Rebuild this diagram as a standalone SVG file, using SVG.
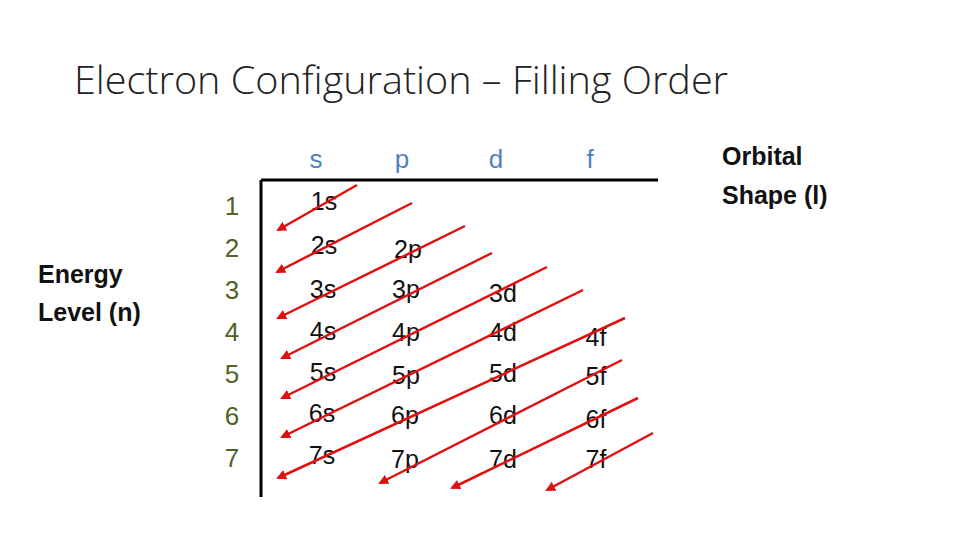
<svg xmlns="http://www.w3.org/2000/svg" width="960" height="540" viewBox="0 0 960 540">
<style>
text{font-family:"Liberation Sans","DejaVu Sans",sans-serif}
.t{font-size:25px;fill:#111;text-anchor:middle}
.h{font-size:26px;fill:#4f81bd;text-anchor:middle}
.n{font-size:26px;fill:#4f6228;text-anchor:middle}
.b{font-size:25px;font-weight:bold;fill:#111}
.a{stroke:#e01010;stroke-width:2.5;fill:none;marker-end:url(#m)}
</style>
<defs><marker id="m" viewBox="0 0 10 10" refX="8" refY="5" markerWidth="4" markerHeight="4" orient="auto"><path d="M0,0L10,5L0,10z" fill="#e01010"/></marker></defs>
<rect width="960" height="540" fill="#fff"/>
<text x="74" y="94" font-size="38" fill="#222" font-weight="300" style="font-family:'Open Sans','Liberation Sans',sans-serif" textLength="654" lengthAdjust="spacingAndGlyphs">Electron Configuration – Filling Order</text>
<g id="labels">
<text class="b" x="38" y="283">Energy</text>
<text class="b" x="38" y="321">Level  (n)</text>
<text class="b" x="722" y="165">Orbital</text>
<text class="b" x="722" y="204">Shape (l)</text>
</g>
<g id="headers"><text class="h" x="316" y="168">s</text><text class="h" x="402" y="168">p</text><text class="h" x="496" y="168">d</text><text class="h" x="590" y="168">f</text></g>
<g id="rows">
<text class="n" x="232" y="215">1</text><text class="n" x="232" y="257">2</text><text class="n" x="232" y="299">3</text><text class="n" x="232" y="341">4</text><text class="n" x="232" y="383">5</text><text class="n" x="232" y="425">6</text><text class="n" x="232" y="467">7</text>
</g>
<g id="table">
<path d="M261,180V497M261,180H658" stroke="#000" stroke-width="3"/>
<text class="t" x="324" y="210">1s</text>
<text class="t" x="324" y="254">2s</text><text class="t" x="408" y="258">2p</text>
<text class="t" x="323" y="298">3s</text><text class="t" x="406" y="298">3p</text><text class="t" x="503" y="302">3d</text>
<text class="t" x="323" y="340">4s</text><text class="t" x="406" y="341">4p</text><text class="t" x="503" y="341">4d</text><text class="t" x="596" y="346">4f</text>
<text class="t" x="323" y="381">5s</text><text class="t" x="406" y="384">5p</text><text class="t" x="503" y="382">5d</text><text class="t" x="596" y="385">5f</text>
<text class="t" x="322" y="422">6s</text><text class="t" x="405" y="424">6p</text><text class="t" x="503" y="424">6d</text><text class="t" x="596" y="428">6f</text>
<text class="t" x="322" y="464">7s</text><text class="t" x="405" y="468">7p</text><text class="t" x="503" y="468">7d</text><text class="t" x="596" y="468">7f</text>
</g>
<g id="connectors">
<line class="a" x1="357" y1="185" x2="278" y2="230"/>
<line class="a" x1="412" y1="203" x2="277" y2="272"/>
<line class="a" x1="465" y1="226" x2="278" y2="318"/>
<line class="a" x1="492" y1="253" x2="282" y2="358"/>
<line class="a" x1="547" y1="267" x2="282" y2="398"/>
<line class="a" x1="583" y1="290" x2="282" y2="437"/>
<line class="a" x1="625" y1="318" x2="278" y2="478"/>
<line class="a" x1="622" y1="360" x2="380" y2="483"/>
<line class="a" x1="638" y1="398" x2="452" y2="488"/>
<line class="a" x1="653" y1="433" x2="547" y2="490"/>
</g>
</svg>
